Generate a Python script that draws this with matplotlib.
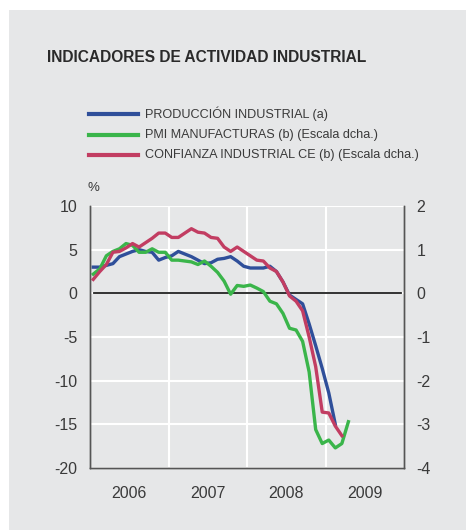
import matplotlib
matplotlib.use("Agg")
import matplotlib.pyplot as plt
from matplotlib.patches import Rectangle
from matplotlib.lines import Line2D
import numpy as np

plt.rcParams['font.family'] = ['Liberation Sans', 'DejaVu Sans']

# Monthly data starting January 2006
produccion = [3.0, 3.0, 3.2, 3.4, 4.2, 4.5, 4.8, 5.0, 4.8, 4.7, 3.8, 4.1,
              4.3, 4.8, 4.5, 4.2, 3.8, 3.4, 3.5, 3.9, 4.0, 4.2, 3.7, 3.1,
              2.9, 2.9, 2.9, 3.1, 2.5, 1.3, -0.2, -0.7, -1.2, -3.5, -6.0, -8.6,
              -11.4, -15.0]
pmi = [0.44, 0.56, 0.86, 0.96, 1.02, 1.14, 1.10, 0.94, 0.94, 1.02, 0.94, 0.94,
       0.76, 0.76, 0.74, 0.72, 0.66, 0.74, 0.62, 0.48, 0.28, -0.02, 0.18, 0.16,
       0.19, 0.12, 0.04, -0.18, -0.24, -0.46, -0.80, -0.84, -1.10, -1.80, -3.12, -3.44,
       -3.36, -3.54, -3.44, -2.94]
confianza = [0.32, 0.50, 0.66, 0.94, 0.96, 1.04, 1.14, 1.06, 1.16, 1.26, 1.38, 1.38,
             1.28, 1.28, 1.38, 1.48, 1.40, 1.38, 1.28, 1.26, 1.06, 0.96, 1.06, 0.96,
             0.86, 0.76, 0.74, 0.58, 0.50, 0.26, -0.06, -0.18, -0.40, -1.00, -1.68, -2.72,
             -2.74, -3.04, -3.26]

years = [2006, 2007, 2008, 2009]
left_ticks = [10, 5, 0, -5, -10, -15, -20]
right_ticks = [2, 1, 0, -1, -2, -3, -4]

labels = ["PRODUCCIÓN INDUSTRIAL (a)",
          "PMI MANUFACTURAS (b) (Escala dcha.)",
          "CONFIANZA INDUSTRIAL CE (b) (Escala dcha.)"]
title = "INDICADORES DE ACTIVIDAD INDUSTRIAL"

c_blue = '#2f4f9a'
c_green = '#3ab54a'
c_red = '#c23d62'
bg = '#e6e7e8'
txt = '#3a3a3a'
spine_c = '#555555'

def months_to_x(n):
    return 2006 + (np.arange(n) + 0.5) / 12.0

fig = plt.figure(figsize=(4.66, 5.30), dpi=100)
fig.patch.set_facecolor('white')
fig.patches.append(Rectangle((9/466, 0), 1 - 9/466, 1 - 10/530,
                             transform=fig.transFigure, facecolor=bg,
                             edgecolor='none', zorder=-10))

ax = fig.add_axes([90/466, 1 - 468/530, (404 - 90)/466, (468 - 206)/530])
ax.set_facecolor(bg)
ax2 = ax.twinx()

ax.set_xlim(2006, 2010)
ax.set_ylim(-20, 10)
ax2.set_ylim(-4, 2)

# grid
for y in left_ticks:
    ax.axhline(y, color='white', lw=1.5, zorder=0)
for x in years[1:]:
    ax.axvline(x, color='white', lw=1.5, zorder=0)
ax.axhline(0, xmin=0.012, xmax=0.99, color='#222222', lw=1.3, zorder=1)

ax.plot(months_to_x(len(produccion)), produccion, color=c_blue, lw=2.4, zorder=3)
ax2.plot(months_to_x(len(pmi)), pmi, color=c_green, lw=2.4, zorder=3)
ax2.plot(months_to_x(len(confianza)), confianza, color=c_red, lw=2.4, zorder=4)

ax.set_yticks(left_ticks)
ax.set_yticklabels([str(t) for t in left_ticks])
ax2.set_yticks(right_ticks)
ax2.set_yticklabels([str(t) for t in right_ticks])
ax.set_xticks([y + 0.5 for y in years])
ax.set_xticklabels([str(y) for y in years])

ax.tick_params(axis='y', length=0, pad=9, labelsize=11.5, labelcolor=txt)
ax2.tick_params(axis='y', length=0, pad=9, labelsize=11.5, labelcolor=txt)
ax.tick_params(axis='x', length=0, pad=13, labelsize=11.5, labelcolor=txt)

for a in (ax, ax2):
    a.spines['top'].set_visible(False)
    for s in ('left', 'right', 'bottom'):
        a.spines[s].set_color(spine_c)
        a.spines[s].set_linewidth(1.0)

# title
fig.text(47/466, 1 - 58/530, title, fontsize=11.2, fontweight='bold',
         color='#2a2a2a', va='center', ha='left')

# legend
ys = [114, 135, 155]
cols = [c_blue, c_green, c_red]
for yy, cc, lab in zip(ys, cols, labels):
    yf = 1 - yy/530
    fig.add_artist(Line2D([89/466, 138/466], [yf, yf], color=cc, lw=3,
                          transform=fig.transFigure))
    fig.text(145/466, yf, lab, fontsize=9.1, color=txt, va='center', ha='left')

fig.text(88/466, 1 - 188/530, "%", fontsize=9.5, color=txt, va='center', ha='left')

fig.savefig("out.png", dpi=100, facecolor=fig.get_facecolor())
